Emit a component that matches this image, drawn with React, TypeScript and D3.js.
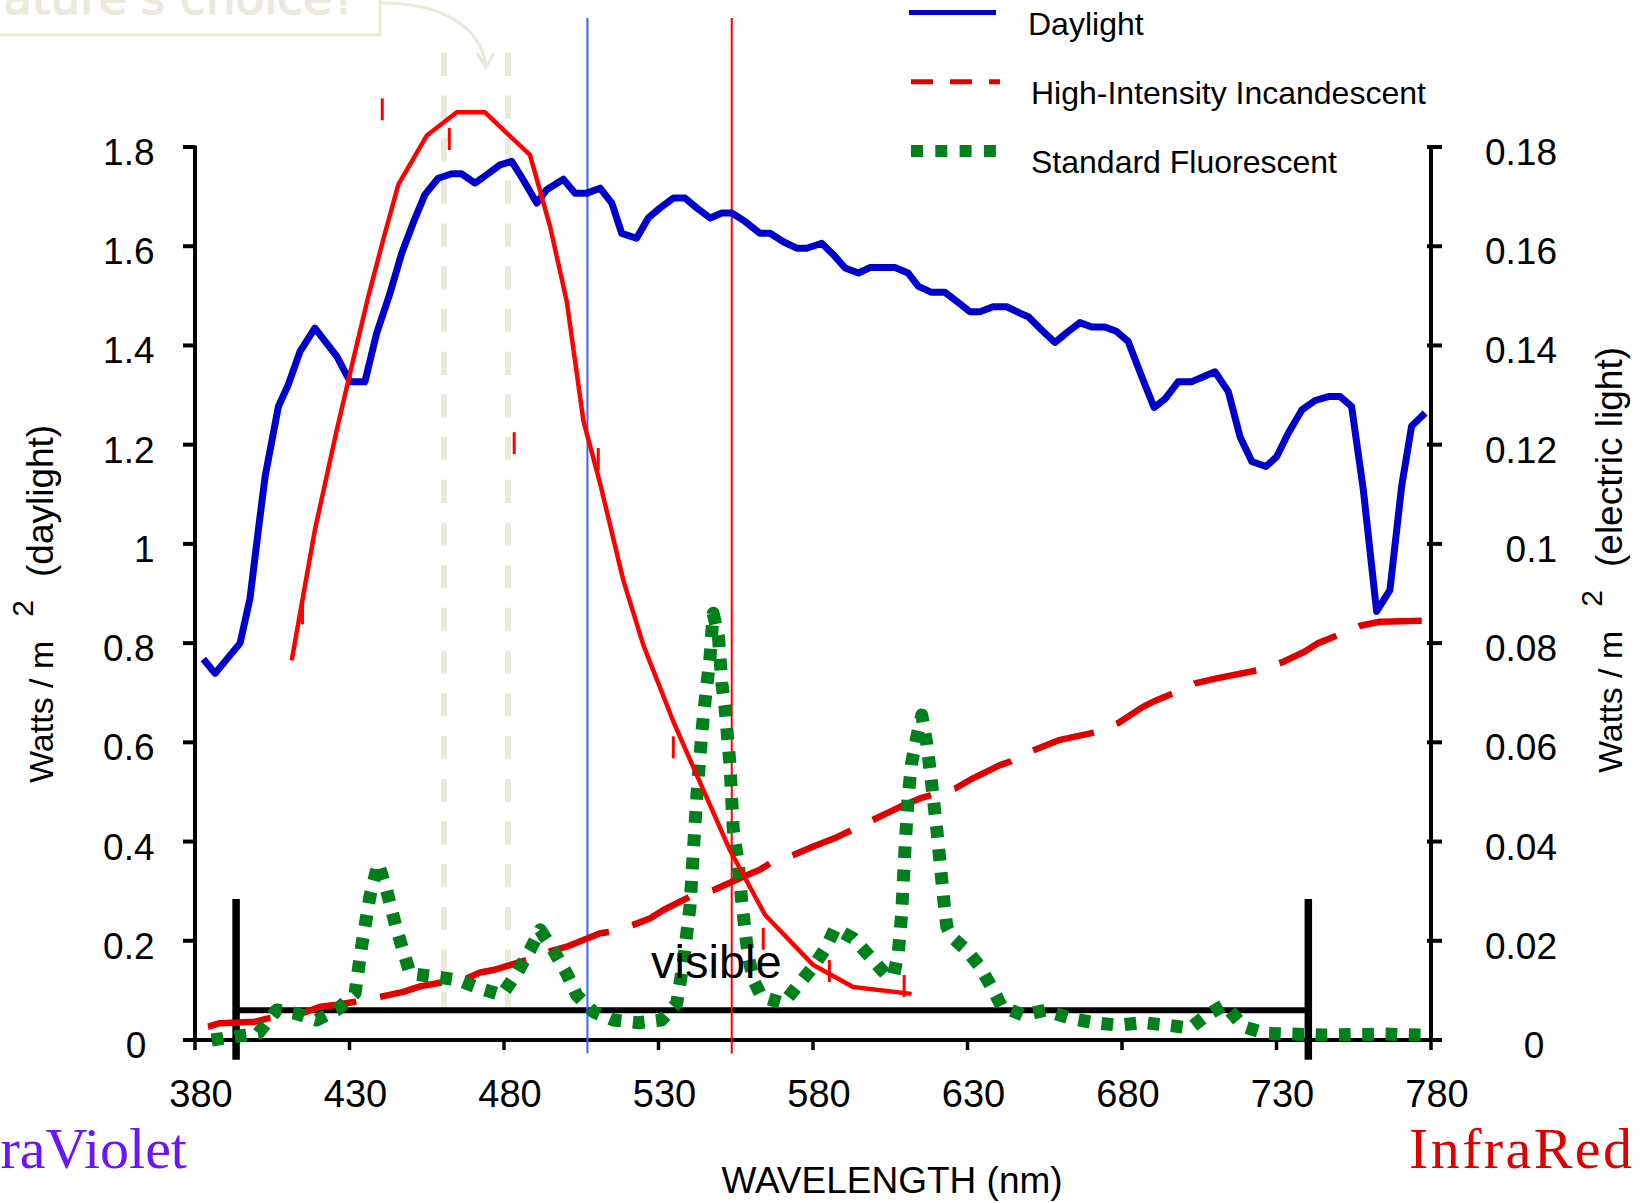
import React from 'react';
import * as d3 from 'd3';

// ---------- data ----------
const X_TICKS = [380, 430, 480, 530, 580, 630, 680, 730, 780];
const LEFT_TICKS = [0, 0.2, 0.4, 0.6, 0.8, 1, 1.2, 1.4, 1.6, 1.8];
const LEFT_TICK_LABELS = ['0', '0.2', '0.4', '0.6', '0.8', '1', '1.2', '1.4', '1.6', '1.8'];
const RIGHT_TICKS = [0, 0.02, 0.04, 0.06, 0.08, 0.1, 0.12, 0.14, 0.16, 0.18];
const RIGHT_TICK_LABELS = ['0', '0.02', '0.04', '0.06', '0.08', '0.1', '0.12', '0.14', '0.16', '0.18'];

const SERIES_NAMES = ['Daylight', 'High-Intensity Incandescent', 'Standard Fluorescent'];

// Daylight, W/m2 (left axis) : [wavelength nm, value]
const daylight: [number, number][] = [
  [382.7, 0.768], [386.5, 0.739], [394.6, 0.8], [397.8, 0.89], [400.5, 1.028], [402.7, 1.136],
  [407.0, 1.277], [410.2, 1.321], [414.0, 1.388], [418.8, 1.435], [425.9, 1.378], [430.2, 1.327],
  [435.0, 1.327], [438.8, 1.425], [443.1, 1.505], [446.9, 1.586], [450.6, 1.647], [454.4, 1.704],
  [458.7, 1.737], [463.1, 1.746], [466.3, 1.746], [470.6, 1.727], [474.4, 1.744], [478.7, 1.764],
  [482.5, 1.771], [486.2, 1.734], [490.6, 1.687], [493.8, 1.714], [499.2, 1.735], [503.0, 1.707],
  [506.8, 1.707], [511.1, 1.717], [514.9, 1.687], [518.1, 1.626], [522.9, 1.616], [526.7, 1.657],
  [530.5, 1.677], [534.8, 1.697], [538.6, 1.697], [542.4, 1.677], [546.7, 1.657], [550.5, 1.667],
  [553.7, 1.667], [558.0, 1.65], [562.8, 1.626], [566.1, 1.626], [570.4, 1.609], [574.7, 1.596],
  [578.0, 1.596], [582.8, 1.606], [586.6, 1.583], [590.4, 1.556], [594.7, 1.546], [598.4, 1.557],
  [606.5, 1.557], [610.8, 1.546], [614.1, 1.519], [618.4, 1.507], [622.7, 1.507], [626.5, 1.489],
  [630.8, 1.468], [634.0, 1.468], [638.3, 1.478], [642.7, 1.478], [647.0, 1.465], [649.7, 1.458],
  [654.0, 1.431], [658.3, 1.406], [662.6, 1.428], [666.4, 1.446], [670.2, 1.437], [674.5, 1.437],
  [678.3, 1.428], [682.0, 1.408], [686.4, 1.337], [690.4, 1.275], [693.9, 1.292], [698.2, 1.327],
  [702.6, 1.327], [706.3, 1.337], [710.1, 1.347], [714.4, 1.307], [718.2, 1.216], [722.0, 1.166],
  [726.6, 1.156], [730.1, 1.176], [733.8, 1.223], [738.2, 1.27], [742.5, 1.289], [746.8, 1.297],
  [750.6, 1.297], [754.3, 1.277], [758.1, 1.109], [762.4, 0.864], [766.7, 0.907], [770.5, 1.116],
  [773.7, 1.237], [778.1, 1.264],
];

// High-Intensity Incandescent, W/m2 (right axis)
const incandescent: [number, number][] = [
  [379.4, 0.0022], [384.3, 0.0027], [388.1, 0.0034], [399.4, 0.0037], [404.0, 0.0044], [412.9, 0.005],
  [420.5, 0.0067], [425.9, 0.0071], [431.8, 0.0077], [439.9, 0.0087], [447.4, 0.0097], [452.8, 0.0108],
  [459.8, 0.0116], [467.9, 0.0124], [472.2, 0.0136], [476.5, 0.0141], [487.3, 0.0161], [494.3, 0.0178],
  [500.3, 0.0188], [511.1, 0.0215], [514.3, 0.0218], [521.8, 0.0232], [527.2, 0.0245], [531.6, 0.0262],
  [540.2, 0.0289], [547.7, 0.0302], [557.4, 0.0329], [562.8, 0.0343], [566.1, 0.0356], [573.6, 0.0373],
  [580.1, 0.039], [587.1, 0.0407], [592.5, 0.0423], [599.5, 0.0444], [608.2, 0.047], [614.6, 0.0487],
  [618.4, 0.0494], [626.0, 0.0507], [631.9, 0.0528], [640.5, 0.0554], [643.8, 0.0561], [651.8, 0.0585],
  [659.9, 0.0605], [671.3, 0.062], [678.8, 0.0639], [686.9, 0.0672], [691.2, 0.0685], [696.6, 0.0699],
  [703.6, 0.0719], [710.6, 0.0729], [723.6, 0.0745], [731.7, 0.0761], [739.2, 0.0783], [743.5, 0.08],
  [749.5, 0.0815], [757.0, 0.0835], [763.5, 0.0843], [777.0, 0.0845],
];

// Standard Fluorescent, W/m2 (right axis)
const fluorescent: [number, number][] = [
  [385.4, 0.0], [400.5, 0.00135], [406.4, 0.00605], [412.4, 0.00538], [419.4, 0.00403], [425.9, 0.00605],
  [431.8, 0.00942], [433.9, 0.0188], [436.6, 0.0289], [439.3, 0.0356], [442.0, 0.0302], [445.3, 0.0222],
  [449.6, 0.0134], [457.1, 0.0128], [465.2, 0.0121], [472.2, 0.0104], [479.3, 0.00907], [484.1, 0.0134],
  [488.4, 0.0181], [491.7, 0.0222], [496.0, 0.0181], [500.3, 0.0134], [503.5, 0.00907], [508.9, 0.0057],
  [515.4, 0.00403], [523.5, 0.00349], [531.0, 0.00403], [535.9, 0.0074], [538.0, 0.0155], [540.2, 0.0269],
  [541.3, 0.0383], [542.4, 0.0491], [543.4, 0.0571], [544.5, 0.0652], [545.6, 0.0712], [546.7, 0.0773],
  [547.7, 0.086], [549.4, 0.0813], [550.5, 0.0719], [551.5, 0.0672], [553.1, 0.0558], [554.2, 0.0423],
  [555.8, 0.0356], [556.9, 0.0282], [558.0, 0.0222], [559.1, 0.0168], [560.7, 0.0121], [563.4, 0.0087],
  [570.4, 0.0074], [574.7, 0.0107], [580.1, 0.0148], [584.4, 0.0188], [587.1, 0.0225], [593.0, 0.0205],
  [598.4, 0.0168], [603.3, 0.0134], [606.0, 0.0128], [607.6, 0.0175], [608.7, 0.0255], [609.8, 0.039],
  [610.8, 0.0491], [611.9, 0.0558], [613.6, 0.0611], [615.2, 0.0655], [616.8, 0.0598], [617.9, 0.0544],
  [620.1, 0.0423], [622.2, 0.0289], [623.3, 0.0228], [624.9, 0.0208], [629.7, 0.0181], [634.0, 0.0148],
  [638.3, 0.0101], [641.1, 0.0067], [648.1, 0.005], [655.1, 0.006], [663.2, 0.0044], [670.7, 0.0035],
  [678.8, 0.003], [686.9, 0.0035], [694.5, 0.003], [702.0, 0.0024], [707.4, 0.005], [713.3, 0.0071],
  [719.3, 0.0027], [726.3, 0.00135], [745.2, 0.001], [764.6, 0.0012], [777.5, 0.001],
];

// unlabeled red curve (left-axis units)
const redCurve: [number, number][] = [
  [411.3, 0.765], [418.8, 1.028], [425.9, 1.23], [431.2, 1.371], [436.1, 1.499], [440.9, 1.613],
  [445.8, 1.724], [455.0, 1.823], [464.7, 1.87], [473.9, 1.87], [480.9, 1.828], [488.4, 1.784],
  [494.9, 1.64], [500.3, 1.489], [505.7, 1.248], [511.1, 1.122], [518.6, 0.927], [525.1, 0.796],
  [534.8, 0.642], [544.5, 0.504], [553.1, 0.383], [564.5, 0.252], [580.1, 0.151], [593.0, 0.107],
  [611.9, 0.093],
];

// small red tick marks (left-axis units)
const redMarkers: [number, number][] = [
  [414.8, 0.86], [440.6, 1.876], [462.3, 1.816], [483.3, 1.203], [510.5, 1.171],
  [534.8, 0.59], [563.9, 0.204], [585.3, 0.139], [609.5, 0.109],
];

const BLUE_MARK_WL = 507.0;
const RED_MARK_WL = 553.7;
const NATURE_CHOICE_WL = [460.6, 481.3];
const VISIBLE_RANGE = [393.3, 740.3];
const VISIBLE_LEVEL = 0.006; // right-axis units
const VISIBLE_SPAN = [-0.004, 0.0284];
const MARK_SPAN = [-0.027, 2.06]; // left-axis units
const NATURE_SPAN = [0.065, 1.99];

// ---------- styles ----------
const FONT = "'Liberation Sans', Arial, Helvetica, sans-serif";
const SERIF = "'Liberation Serif', 'Times New Roman', serif";
const BLUE = '#0000cc';
const RED = '#ff0000';
const DRED = '#e00000';
const GREEN = '#00801a';
const BEIGE = '#ebe8dc';

function polyLength(pts: [number, number][]) {
  let L = 0;
  for (let i = 1; i < pts.length; i++) {
    L += Math.hypot(pts[i][0] - pts[i - 1][0], pts[i][1] - pts[i - 1][1]);
  }
  return L;
}

export default function App() {
  const W = 1643, H = 1203;
  const x = d3.scaleLinear().domain([380, 780]).range([195, 1431]);
  const yL = d3.scaleLinear().domain([0, 1.8]).range([1040, 147]);
  const yR = d3.scaleLinear().domain([0, 0.18]).range([1040, 147]);

  const lineL = d3.line<[number, number]>().x(d => x(d[0])).y(d => yL(d[1]));
  const lineR = d3.line<[number, number]>().x(d => x(d[0])).y(d => yR(d[1]));

  const x0 = x(380), x1 = x(780), yb = yL(0), yt = yL(1.8);

  // dash pattern for incandescent: first dash begins ~15px in, last dash ends at the end
  const incPx = incandescent.map(d => [x(d[0]), yR(d[1])] as [number, number]);
  const incLen = polyLength(incPx);
  const lead = 15, dashFrac = 63 / 87;
  const nPer = Math.max(1, Math.round((incLen - lead - 63) / 87));
  const period = (incLen - lead) / (nPer + dashFrac);
  const dashA = period * dashFrac, gapA = period - dashA;
  const dashOffset = period - lead;

  const legendY = [12.5, 81.8, 151.1];

  return (
    <svg width={W} height={H} viewBox={`0 0 ${W} ${H}`}
      style={{ position: 'absolute', left: 0, top: 0, background: '#fff' }}
      fontFamily={FONT}>
      <rect x={0} y={0} width={W} height={H} fill="#fff" />

      {/* "Nature's choice?" annotation */}
      <text x={357} y={14} textAnchor="end" fontSize={47} fill={BEIGE} stroke={BEIGE} strokeWidth={1.2}
        fontFamily="'DejaVu Sans', sans-serif">Nature's choice?</text>
      <path d="M0,35 H380 V-5" fill="none" stroke={BEIGE} strokeWidth={3} />
      <path d="M381,3 C440,3 480,25 486,66" fill="none" stroke={BEIGE} strokeWidth={3} />
      <path d="M477,53 L486,67 L494,53" fill="none" stroke={BEIGE} strokeWidth={3} />

      {/* beige dashed wavelength markers */}
      {NATURE_CHOICE_WL.map((w, i) => (
        <line key={'n' + i} x1={x(w)} x2={x(w)} y1={yL(NATURE_SPAN[1])} y2={yL(NATURE_SPAN[0])}
          stroke={BEIGE} strokeWidth={6} strokeDasharray="23.3 19.4" />
      ))}

      {/* visible bracket */}
      <line x1={x(VISIBLE_RANGE[0])} x2={x(VISIBLE_RANGE[1])} y1={yR(VISIBLE_LEVEL)} y2={yR(VISIBLE_LEVEL)}
        stroke="#000" strokeWidth={6} />
      {VISIBLE_RANGE.map((w, i) => (
        <line key={'v' + i} x1={x(w)} x2={x(w)} y1={yR(VISIBLE_SPAN[1])} y2={yR(VISIBLE_SPAN[0])}
          stroke="#000" strokeWidth={7.5} />
      ))}

      {/* axes */}
      <line x1={x0 - 12} x2={x1 + 11} y1={yb} y2={yb} stroke="#000" strokeWidth={4} />
      <line x1={x0} x2={x0} y1={yt - 1.5} y2={yb} stroke="#000" strokeWidth={4} />
      <line x1={x1} x2={x1} y1={yt - 1.5} y2={yb} stroke="#000" strokeWidth={4} />
      {X_TICKS.map(t => (
        <g key={'xt' + t}>
          <line x1={x(t)} x2={x(t)} y1={yb} y2={yb + 10} stroke="#000" strokeWidth={3.5} />
          <text x={x(t) + 6} y={1107} textAnchor="middle" fontSize={38} fill="#000">{t}</text>
        </g>
      ))}
      {LEFT_TICKS.map((t, i) => (
        <g key={'yl' + t}>
          <line x1={x0 - 12} x2={x0} y1={yL(t)} y2={yL(t)} stroke="#000" strokeWidth={4} />
          <text x={t === 0 ? 136 : 154.5} y={yL(t) + 18} textAnchor={t === 0 ? 'middle' : 'end'}
            fontSize={37} fill="#000">{LEFT_TICK_LABELS[i]}</text>
        </g>
      ))}
      {RIGHT_TICKS.map((t, i) => (
        <g key={'yr' + t}>
          <line x1={x1 - 4} x2={x1 + 11} y1={yR(t)} y2={yR(t)} stroke="#000" strokeWidth={4} />
          <text x={t === 0 ? 1534 : 1557} y={yR(t) + 18} textAnchor={t === 0 ? 'middle' : 'end'}
            fontSize={37} fill="#000">{RIGHT_TICK_LABELS[i]}</text>
        </g>
      ))}

      {/* thin marker lines */}
      <line x1={x(BLUE_MARK_WL)} x2={x(BLUE_MARK_WL)} y1={yL(MARK_SPAN[1])} y2={yL(MARK_SPAN[0])}
        stroke="#3366ff" strokeWidth={2} />
      <line x1={x(RED_MARK_WL)} x2={x(RED_MARK_WL)} y1={yL(MARK_SPAN[1])} y2={yL(MARK_SPAN[0])}
        stroke={RED} strokeWidth={2} />

      {/* series */}
      <path d={lineR(incandescent) || ''} fill="none" stroke={DRED} strokeWidth={6.5}
        strokeDasharray={`${dashA.toFixed(2)} ${gapA.toFixed(2)}`} strokeDashoffset={dashOffset.toFixed(2)}
        strokeLinejoin="round" />
      <path d={lineR(fluorescent) || ''} fill="none" stroke={GREEN} strokeWidth={13}
        strokeDasharray="11.7 11.6" strokeLinejoin="round" />
      <path d={lineL(daylight) || ''} fill="none" stroke={BLUE} strokeWidth={7} strokeLinejoin="round" />
      <path d={lineL(redCurve) || ''} fill="none" stroke={RED} strokeWidth={4.5} strokeLinejoin="round" />
      {redMarkers.map((d, i) => (
        <line key={'m' + i} x1={x(d[0])} x2={x(d[0])} y1={yL(d[1]) - 11} y2={yL(d[1]) + 11}
          stroke={RED} strokeWidth={3} />
      ))}

      <text x={651} y={978} fontSize={47} fill="#000">visible</text>

      {/* legend */}
      <line x1={909} x2={996} y1={legendY[0]} y2={legendY[0]} stroke={BLUE} strokeWidth={5} />
      <line x1={911} x2={1000} y1={legendY[1]} y2={legendY[1]} stroke={DRED} strokeWidth={5}
        strokeDasharray="22 17" />
      <line x1={911} x2={997} y1={legendY[2]} y2={legendY[2]} stroke={GREEN} strokeWidth={12}
        strokeDasharray="12 12.3" />
      {SERIES_NAMES.map((s, i) => (
        <text key={s} x={i === 0 ? 1028 : 1031} y={legendY[i] + 22} fontSize={32} fill="#000">{s}</text>
      ))}

      {/* axis titles */}
      <text x={892} y={1193} textAnchor="middle" fontSize={37} fill="#000">WAVELENGTH (nm)</text>
      <text transform="translate(53,783) rotate(-90)" fontSize={34} fill="#000">
        Watts / m<tspan dx={24} dy={-20} fontSize={30}>2</tspan><tspan dx={23} dy={20} fontSize={37}>(daylight)</tspan>
      </text>
      <text transform="translate(1622,773) rotate(-90)" fontSize={34} fill="#000">
        Watts / m<tspan dx={24} dy={-20} fontSize={30}>2</tspan><tspan dx={23} dy={20} fontSize={37}>(electric light)</tspan>
      </text>

      <text x={187} y={1168} textAnchor="end" fontSize={58} fill="#6a14ff" fontFamily={SERIF}>UltraViolet</text>
      <text x={1409} y={1168} fontSize={58} fill="#dd0000" fontFamily={SERIF}
        textLength={223} lengthAdjust="spacing">InfraRed</text>
    </svg>
  );
}
